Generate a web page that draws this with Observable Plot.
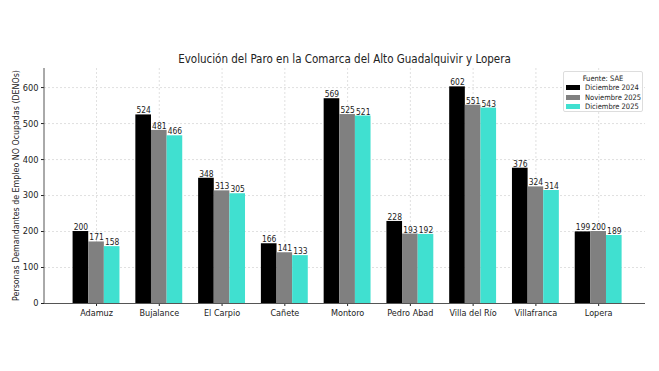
<!DOCTYPE html>
<html>
<head>
<meta charset="utf-8">
<script src="https://cdn.jsdelivr.net/npm/d3@7"></script>
<script src="https://cdn.jsdelivr.net/npm/@observablehq/plot@0.6"></script>
<style>
  html, body { margin: 0; padding: 0; background: #fff; }
  #wrap { position: relative; width: 659px; height: 371px; font-family: "DejaVu Sans Condensed", "DejaVu Sans", sans-serif; }
  #title { position: absolute; left: 44px; width: 601px; top: 52px; text-align: center; font-size: 11.5px; color: #222; white-space: nowrap; }
  #chart { position: absolute; left: 0; top: 0; }
  #legend { position: absolute; left: 563px; top: 71px; width: 80px; height: 41px; border: 1px solid #ddd; border-radius: 2px; background: rgba(255,255,255,0.9); font-size: 7.5px; color: #222; box-sizing: border-box; white-space: nowrap; }
  #legend .t { text-align: center; margin-top: 1.5px; line-height: 9px; }
  #legend .row { display: flex; align-items: center; height: 9.8px; padding-left: 2px; }
  #legend .sw { width: 14px; height: 5px; margin-right: 5px; flex: none; }
</style>
</head>
<body>
<div id="wrap">
  <div id="chart"></div>
  <div id="title"></div>
  <div id="legend"></div>
</div>
<script>
const categories = ["Adamuz","Bujalance","El Carpio","Cañete","Montoro","Pedro Abad","Villa del Río","Villafranca","Lopera"];
const series = ["Diciembre 2024","Noviembre 2025","Diciembre 2025"];
const dic2024 = [200,524,348,166,569,228,602,376,199];
const nov2025 = [171,481,313,141,525,193,551,324,200];
const dic2025 = [158,466,305,133,521,192,543,314,189];
const colors = ["#000000","#808080","#40E0D0"];
const yTicks = [0,100,200,300,400,500,600];
const titleText = "Evolución del Paro en la Comarca del Alto Guadalquivir y Lopera";
const yLabel = "Personas Demandantes de Empleo NO Ocupadas (DENOs)";
const legendTitle = "Fuente: SAE";

const FONT = "DejaVu Sans Condensed, DejaVu Sans, sans-serif";
const W = 659, H = 371, mL = 44, mR = 14, mT = 68, mB = 68;
const values = [dic2024, nov2025, dic2025];
const rows = [];
values.forEach((arr, s) => arr.forEach((v, i) => rows.push({cat: categories[i], series: series[s], s, value: v})));

const xOpts = {type: "band", domain: categories, paddingInner: 0.253, paddingOuter: 0.414, align: 0.55, round: false};
const xb = d3.scaleBand(categories, [mL, W - mR]).paddingInner(xOpts.paddingInner).paddingOuter(xOpts.paddingOuter).align(xOpts.align);
const bw = xb.bandwidth();
const sub = bw / 3;

const marks = [
  Plot.ruleY(yTicks, {stroke: "#d8d8d8", strokeDasharray: "2,2", strokeWidth: 0.8}),
  Plot.ruleX(categories, {x: d => d, stroke: "#d8d8d8", strokeDasharray: "2,2", strokeWidth: 0.8})
];
series.forEach((name, s) => {
  const d = rows.filter(r => r.s === s);
  marks.push(Plot.barY(d, {x: "cat", y: "value", fill: colors[s], insetLeft: s * sub, insetRight: (2 - s) * sub}));
});
series.forEach((name, s) => {
  const d = rows.filter(r => r.s === s);
  marks.push(Plot.text(d, {x: "cat", y: "value", text: d => String(d.value), dx: (s - 1) * sub, dy: -1.5, lineAnchor: "bottom", fontSize: 8.4, fill: "#222"}));
});

const chart = Plot.plot({
  width: W, height: H,
  marginLeft: mL, marginRight: mR, marginTop: mT, marginBottom: mB,
  style: {fontFamily: FONT, fontSize: "9px", color: "#222", background: "transparent", overflow: "visible"},
  x: {...xOpts, label: null},
  y: {domain: [0, 653], label: null},
  marks: [
    ...marks,
    Plot.axisX({tickSize: 3, fontSize: 9, tickPadding: 3, label: null}),
    Plot.axisY(yTicks, {tickSize: 3, fontSize: 9.2, tickPadding: 3, label: null}),
    Plot.ruleY([0], {stroke: "#555", strokeWidth: 1})
  ]
});
document.getElementById("chart").appendChild(chart);

const svg = d3.select(chart);
svg.append("line").attr("x1", mL).attr("x2", mL).attr("y1", mT).attr("y2", H - mB).attr("stroke", "#555").attr("stroke-width", 1);
svg.append("text")
  .attr("transform", `translate(19,${(mT + H - mB) / 2}) rotate(-90)`)
  .attr("text-anchor", "middle")
  .attr("font-size", 8.8)
  .attr("fill", "#222")
  .text(yLabel);

document.getElementById("title").textContent = titleText;

const lg = document.getElementById("legend");
const t = document.createElement("div"); t.className = "t"; t.textContent = legendTitle; lg.appendChild(t);
series.forEach((name, s) => {
  const row = document.createElement("div"); row.className = "row";
  const sw = document.createElement("div"); sw.className = "sw"; sw.style.background = colors[s];
  const tx = document.createElement("span"); tx.textContent = name;
  row.appendChild(sw); row.appendChild(tx); lg.appendChild(row);
});
</script>
</body>
</html>
